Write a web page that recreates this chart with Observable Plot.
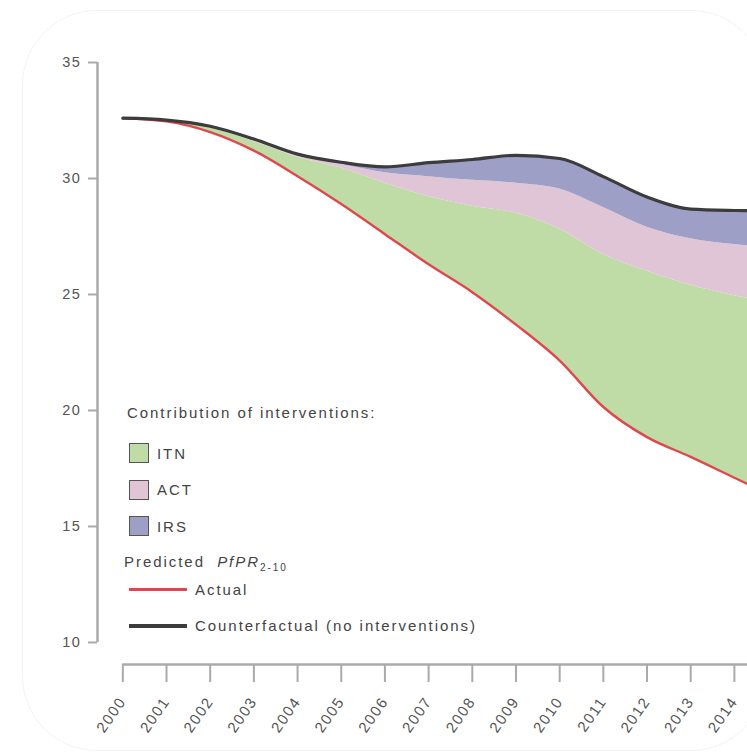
<!DOCTYPE html>
<html>
<head>
<meta charset="utf-8">
<script src="https://cdn.jsdelivr.net/npm/d3@7"></script>
<script src="https://cdn.jsdelivr.net/npm/@observablehq/plot@0.6"></script>
<style>
  html, body { margin: 0; padding: 0; background: #fff; overflow: hidden; }
  #wrap { position: relative; width: 747px; height: 752px; overflow: hidden;
          font-family: "Liberation Sans", Arial, Helvetica, sans-serif; color: #444; }
  #card { position: absolute; left: 22px; top: 10px; width: 744px; height: 741px;
          border: 1px solid #f3f3f3; border-radius: 75px; box-sizing: border-box; pointer-events: none; }
  #chart { position: absolute; left: 0; top: 0; }
  #legend { position: absolute; left: 0; top: 0; font-size: 15px; letter-spacing: 1.95px; }
  #legend .row { position: absolute; display: flex; align-items: center; white-space: nowrap; }
  #legend .sw { width: 20px; height: 20px; border: 1.5px solid #555; box-sizing: border-box; margin-right: 8px; }
  #legend .ln { width: 58px; margin-right: 8px; }
</style>
</head>
<body>
<div id="wrap">
  <div id="card"></div>
  <div id="chart"></div>
  <div id="legend"></div>
</div>
<script>
// Predicted PfPR(2-10), 2000 onwards, with the part averted by each intervention
const years          = [2000, 2001, 2002, 2003, 2004, 2005, 2006, 2007, 2008, 2009, 2010, 2011, 2012, 2013, 2014, 2015];
const actual         = [32.6, 32.46, 32.0, 31.2, 30.1, 28.9, 27.6, 26.3, 25.1, 23.7, 22.15, 20.15, 18.85, 18.0, 17.1, 16.2];
const withItn        = [32.6, 32.5, 32.2, 31.6, 30.92, 30.45, 29.8, 29.22, 28.8, 28.5, 27.82, 26.72, 26.0, 25.4, 24.95, 24.6];
const withItnAct     = [32.6, 32.5, 32.22, 31.64, 30.98, 30.6, 30.25, 30.08, 29.92, 29.8, 29.55, 28.75, 27.9, 27.4, 27.15, 27.0];
const counterfactual = [32.6, 32.52, 32.25, 31.7, 31.05, 30.7, 30.5, 30.68, 30.82, 31.0, 30.86, 30.08, 29.2, 28.68, 28.62, 28.6];

const xTicks = [2000, 2001, 2002, 2003, 2004, 2005, 2006, 2007, 2008, 2009, 2010, 2011, 2012, 2013, 2014];
const yTicks = [10, 15, 20, 25, 30, 35];

const interventions = ["ITN", "ACT", "IRS"];
const interventionColors = ["#bfdca6", "#e0c5d6", "#9d9fc6"];
const lineLabels = ["Actual", "Counterfactual (no interventions)"];
const lineColors = ["#e0474c", "#3c3c3c"];
const legendTitle = "Contribution of interventions:";

const rows = years.map((year, i) => ({
  year,
  actual: actual[i],
  itn: withItn[i],
  act: withItnAct[i],
  cf: counterfactual[i]
}));

const xDomain = [1999.42, 2014.3];
const yDomain = [9.05, 35];
const curve = "monotone-x";

const chart = Plot.plot({
  width: 747,
  height: 752,
  marginLeft: 97,
  marginRight: 0,
  marginTop: 62,
  marginBottom: 88,
  style: { fontFamily: "'Liberation Sans', Arial, sans-serif", fontSize: "14.5px", letterSpacing: "1.6px", background: "transparent" },
  x: { domain: xDomain },
  y: { domain: yDomain },
  marks: [
    Plot.areaY(rows, { x: "year", y1: "actual", y2: "itn", fill: interventionColors[0], curve, clip: true }),
    Plot.areaY(rows, { x: "year", y1: "itn", y2: "act", fill: interventionColors[1], curve, clip: true }),
    Plot.areaY(rows, { x: "year", y1: "act", y2: "cf", fill: interventionColors[2], curve, clip: true }),
    Plot.lineY(rows, { x: "year", y: "actual", stroke: lineColors[0], strokeWidth: 2.4, curve, clip: true }),
    Plot.lineY(rows, { x: "year", y: "cf", stroke: lineColors[1], strokeWidth: 3.2, curve, clip: true }),
    // axis lines
    Plot.ruleX([xDomain[0]], { y1: yTicks[0], y2: yTicks[yTicks.length - 1], stroke: "#aaa", strokeWidth: 2.5 }),
    Plot.ruleY([yDomain[0]], { x1: xTicks[0], x2: xDomain[1], stroke: "#aaa", strokeWidth: 2.5 }),
    Plot.axisY({ ticks: yTicks, tickSize: 9, tickPadding: 7, stroke: "#aaa", strokeWidth: 2, fill: "#555", label: null }),
    Plot.axisX({ ticks: xTicks, tickSize: 18, tickPadding: 16, tickRotate: -55, tickFormat: d => String(d),
                 fontSize: 15, stroke: "#aaa", strokeWidth: 2, fill: "#555", label: null })
  ]
});
document.getElementById("chart").appendChild(chart);

// legend
const legend = document.getElementById("legend");
function addRow(top, left, html) {
  const r = document.createElement("div");
  r.className = "row";
  r.style.top = top + "px";
  r.style.left = left + "px";
  r.innerHTML = html;
  legend.appendChild(r);
  return r;
}
addRow(404, 127, `<span>${legendTitle}</span>`);
interventions.forEach((name, i) => {
  addRow(443 + i * 36.5, 129, `<div class="sw" style="background:${interventionColors[i]}"></div><span>${name}</span>`);
});
addRow(553, 124, `<span>Predicted&nbsp;&nbsp;<i>PfPR</i><sub style="font-size:10px">2-10</sub></span>`);
lineLabels.forEach((name, i) => {
  addRow(581 + i * 36, 129, `<div class="ln" style="border-top:${i ? 4 : 3}px solid ${lineColors[i]}"></div><span>${name}</span>`);
});
</script>
</body>
</html>
